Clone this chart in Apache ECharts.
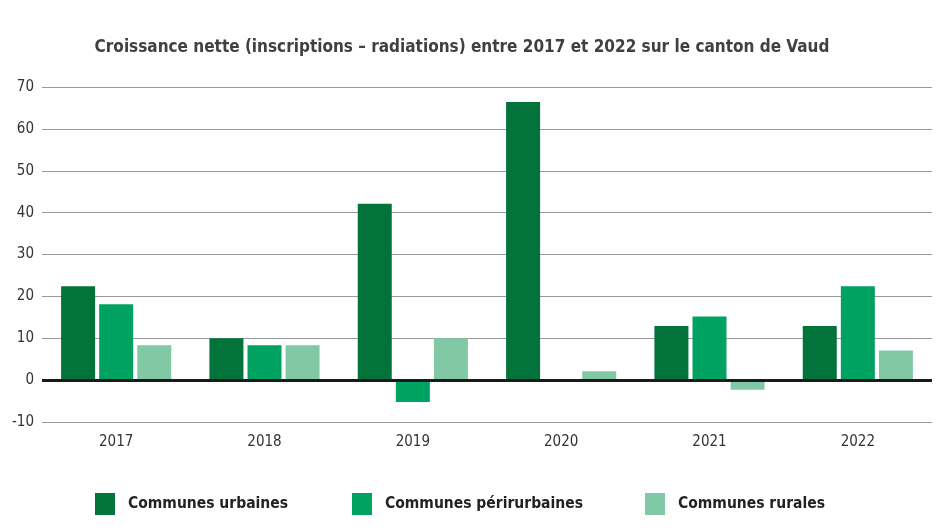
<!DOCTYPE html>
<html><head><meta charset="utf-8">
<script src="https://cdn.jsdelivr.net/npm/echarts@6/dist/echarts.min.js"></script>
<style>html,body{margin:0;padding:0;background:#fff}#c{width:941px;height:532px}</style>
</head><body><div id="c"></div>
<script>
const categories = ['2017','2018','2019','2020','2021','2022'];
const urbaines = [22.4, 10, 42.1, 66.4, 12.9, 12.9];
const periurbaines = [18.1, 8.3, -5.2, 0, 15.2, 22.4];
const rurales = [8.3, 8.3, 10, 2.1, -2.3, 7.1];
const seriesNames = ['Communes urbaines','Communes périrurbaines','Communes rurales'];
const colors = ['#02733a','#00a261','#80c9a4'];
const yTicks = {min:-10, max:70, interval:10};

const font = '"Liberation Sans Narrow","DejaVu Sans Condensed","Roboto",sans-serif';
const chart = echarts.init(document.getElementById('c'));
const legendLefts = [90, 347, 640];
chart.setOption({
  animation:false,
  title:{text:'Croissance nette (inscriptions – radiations) entre 2017 et 2022 sur le canton de Vaud',
    left:457, textAlign:'center', top:34,
    textStyle:{fontFamily:font, fontSize:17, fontWeight:'bold', color:'#404040'}},
  legend: seriesNames.map((n,i)=>({data:[n], left:legendLefts[i], top:488, itemWidth:20, itemHeight:22,
    icon:'rect', itemGap:0,
    textStyle:{fontFamily:font, fontSize:15.5, fontWeight:'bold', color:'#222', padding:[0,0,0,8]}})),
  grid:{left:42, right:9, top:87, bottom:110, containLabel:false},
  xAxis:{type:'category', data:categories, axisLine:{show:false}, axisTick:{show:false},
    axisLabel:{fontFamily:font, fontSize:15, color:'#333', margin:13}},
  yAxis:{type:'value', min:yTicks.min, max:yTicks.max, interval:yTicks.interval,
    axisLine:{show:false}, axisTick:{show:false},
    axisLabel:{fontFamily:font, fontSize:15, color:'#333', margin:8},
    splitLine:{lineStyle:{color:'#999', width:1}}},
  series:[
    {name:seriesNames[0], type:'bar', data:urbaines, itemStyle:{color:colors[0]}, barWidth:34, barGap:'12%',
      markLine:{silent:true, symbol:'none', label:{show:false}, lineStyle:{color:'#1a1a1a', width:3, type:'solid'}, data:[{yAxis:0}], z:10}},
    {name:seriesNames[1], type:'bar', data:periurbaines, itemStyle:{color:colors[1]}, barWidth:34, barGap:'12%'},
    {name:seriesNames[2], type:'bar', data:rurales, itemStyle:{color:colors[2]}, barWidth:34, barGap:'12%'}
  ]
});
</script></body></html>
